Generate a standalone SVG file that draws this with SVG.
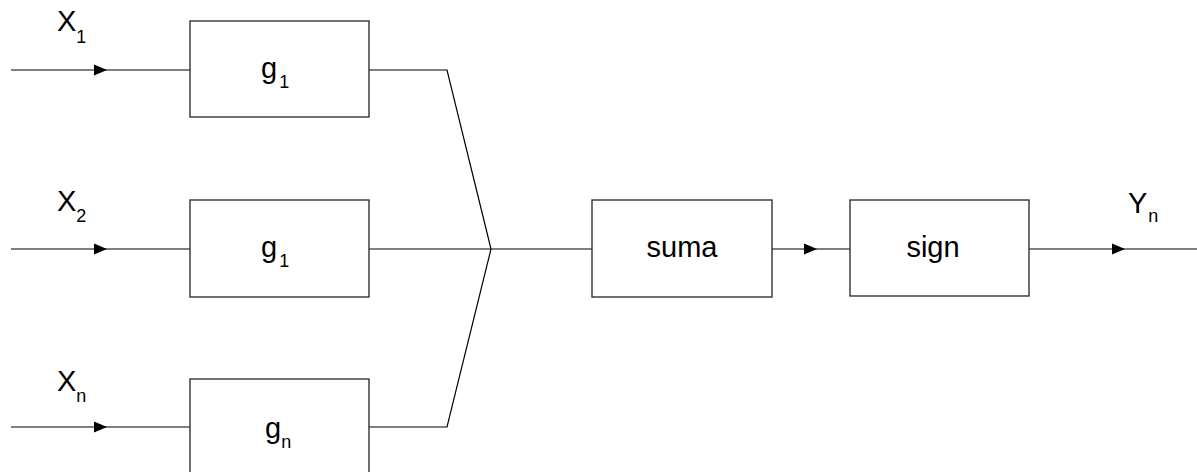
<svg xmlns="http://www.w3.org/2000/svg" width="1197" height="472" viewBox="0 0 1197 472">
  <style>
    .box { fill: #ffffff; stroke: #333333; stroke-width: 1.4; }
    .wire { fill: none; stroke: #000000; stroke-width: 1.2; }
    .lbl { font-family: "Liberation Sans", Arial, sans-serif; fill: #000000; font-size: 29px; }
    tspan.sub { font-size: 18px; }
  </style>
  <defs>
    <path id="tri" d="M0,-5.5 L13,0 L0,5.5 Z" fill="#000000"/>
  </defs>
  <rect width="1197" height="472" fill="#ffffff"/>

  <!-- connectors -->
  <g id="connectors">
    <line class="wire" x1="11" y1="70" x2="190" y2="70"/>
    <line class="wire" x1="11" y1="249" x2="190" y2="249"/>
    <line class="wire" x1="11" y1="427" x2="190" y2="427"/>
    <use href="#tri" x="94" y="70"/>
    <use href="#tri" x="94" y="249"/>
    <use href="#tri" x="94" y="427"/>
    <polyline class="wire" points="369,70 447,70 491,249"/>
    <polyline class="wire" points="369,427 447,427 491,249"/>
    <line class="wire" x1="369" y1="249" x2="592" y2="249"/>
    <line class="wire" x1="772" y1="249" x2="850" y2="249"/>
    <use href="#tri" x="804" y="249"/>
    <line class="wire" x1="1029" y1="249" x2="1197" y2="249"/>
    <use href="#tri" x="1112" y="249"/>
  </g>

  <!-- input labels -->
  <g id="in1"><text class="lbl" x="57" y="31">X<tspan class="sub" dy="12">1</tspan></text></g>
  <g id="in2"><text class="lbl" x="57" y="211">X<tspan class="sub" dy="11">2</tspan></text></g>
  <g id="in3"><text class="lbl" x="57" y="391">X<tspan class="sub" dy="11">n</tspan></text></g>

  <!-- function blocks -->
  <g id="g1">
    <rect class="box" x="190" y="21" width="179" height="96"/>
    <text class="lbl" x="261" y="78">g<tspan class="sub" dx="2" dy="10">1</tspan></text>
  </g>
  <g id="g2">
    <rect class="box" x="190" y="200" width="179" height="97"/>
    <text class="lbl" x="261" y="257">g<tspan class="sub" dx="2" dy="10">1</tspan></text>
  </g>
  <g id="gn">
    <rect class="box" x="190" y="379" width="179" height="110"/>
    <text class="lbl" x="265" y="438">g<tspan class="sub" dx="0" dy="10">n</tspan></text>
  </g>

  <g id="suma">
    <rect class="box" x="592" y="200" width="180" height="97"/>
    <text class="lbl" x="682" y="257" text-anchor="middle">suma</text>
  </g>
  <g id="sign">
    <rect class="box" x="850" y="200" width="179" height="96"/>
    <text class="lbl" x="933" y="257" text-anchor="middle">sign</text>
  </g>

  <!-- output label -->
  <g id="out"><text class="lbl" x="1128" y="213">Y<tspan class="sub" dx="1" dy="9">n</tspan></text></g>
</svg>
